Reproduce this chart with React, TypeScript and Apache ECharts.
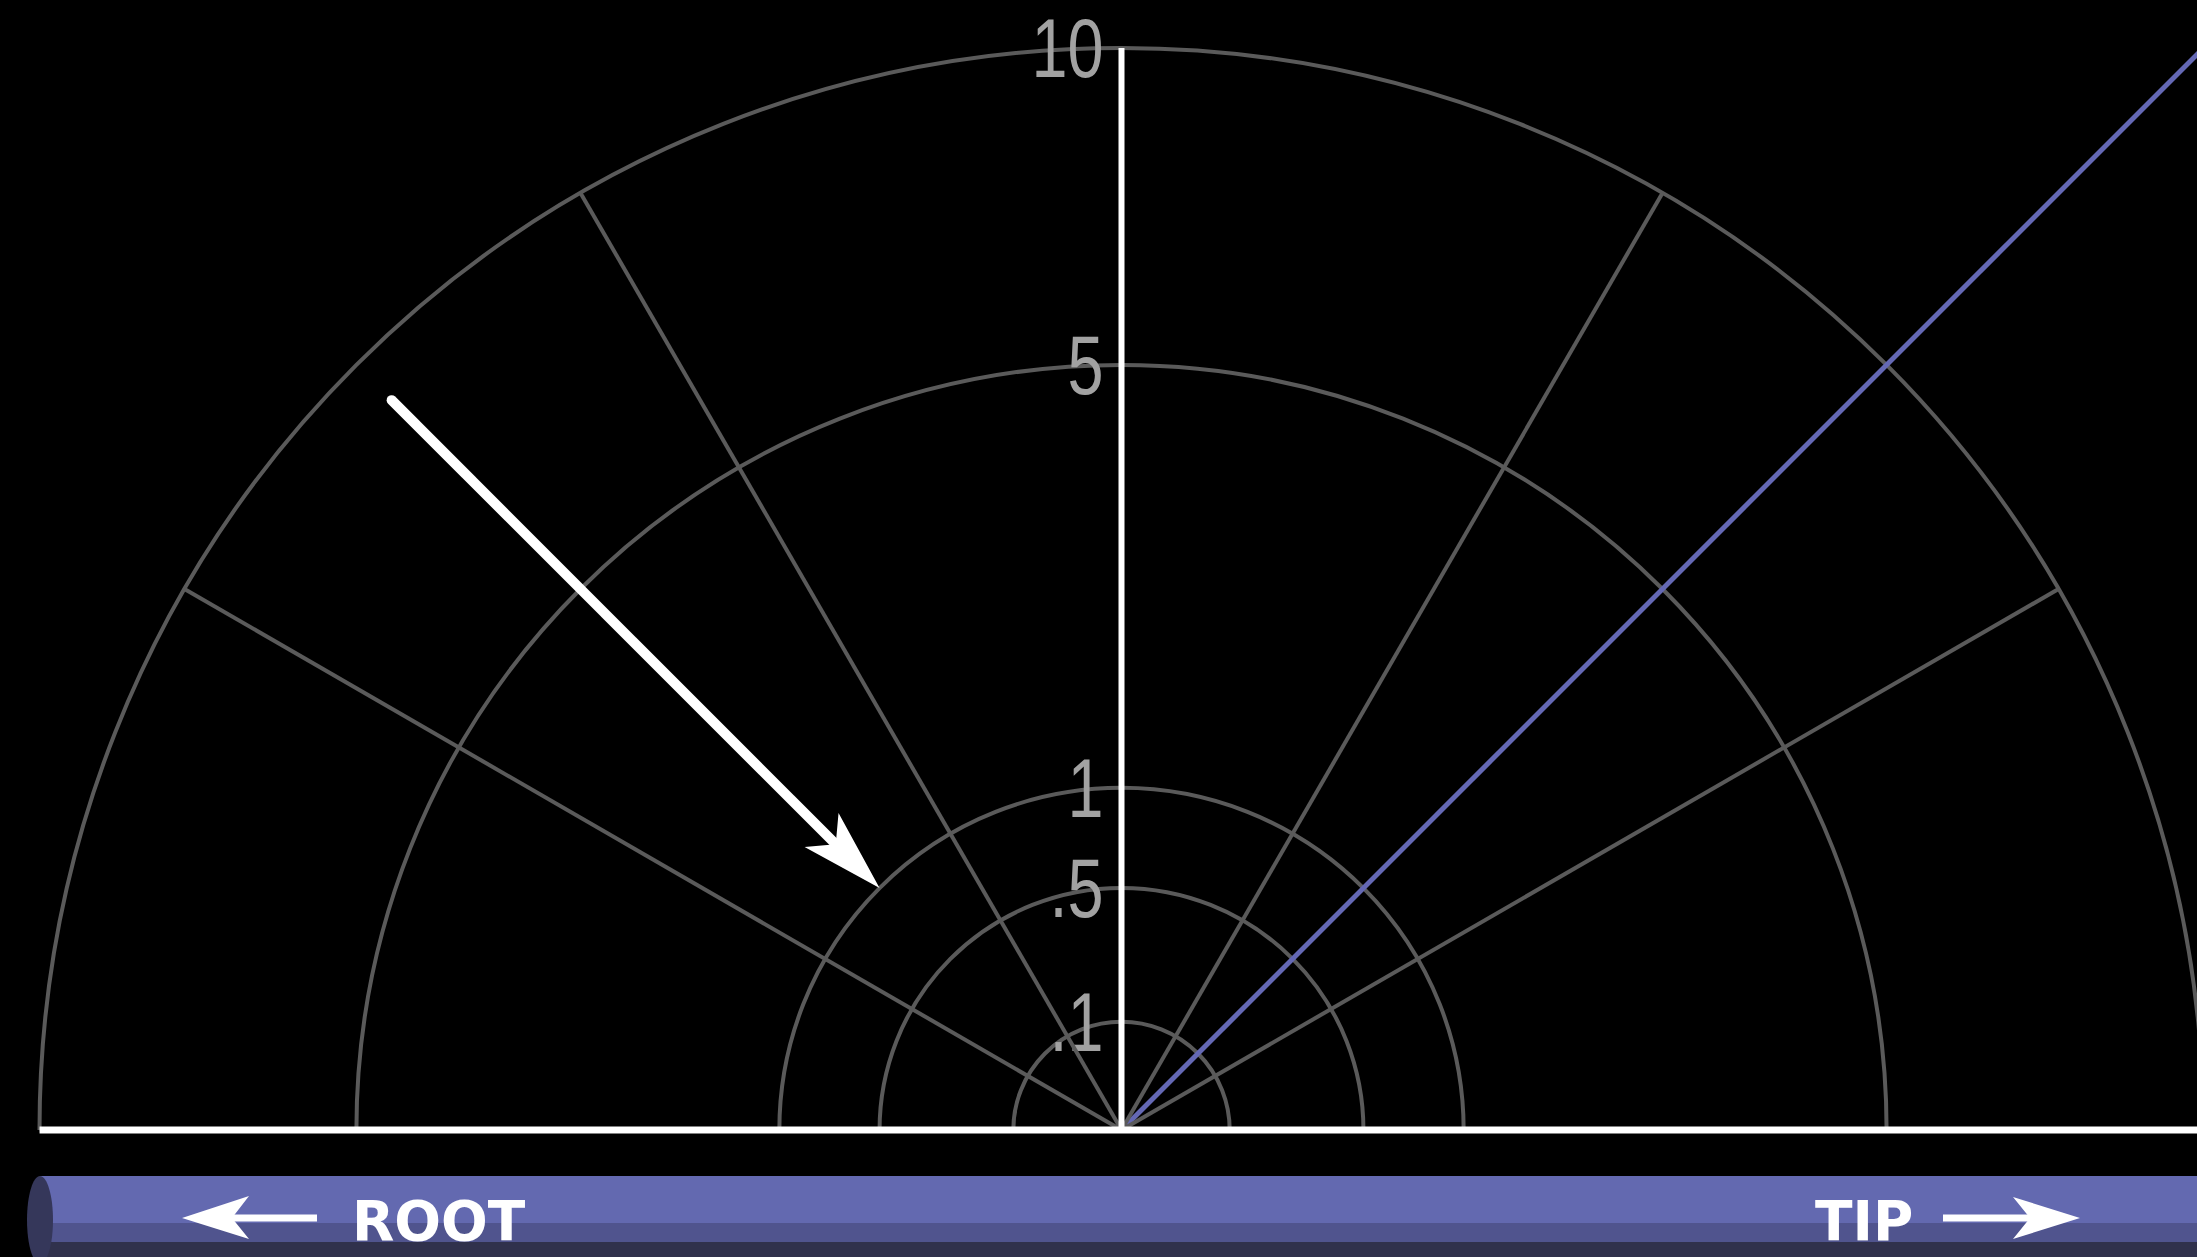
import React, { useEffect, useRef } from "react";
import * as echarts from "echarts";

// ---- data ----
const ringValues = [0.1, 0.5, 1, 5, 10];
const ringLabels = [".1", ".5", "1", "5", "10"];
const spokeAngles = [30, 60, 120, 150];
const axisAngles = [90];
const maxValue = 10;
const bladeAngles = [45];
const bladeReach = [25];
const arrowAngle = [135];
const arrowFrom = [9.1];
const arrowTo = [1.0];
const barLabels = ["ROOT", "TIP"];

// radius scale: distance grows with the square root of the value
const sq = (v: number) => Math.sqrt(v);

const GRID = "#5a5a5a";
const LABEL = "#a2a2a2";

export default function App() {
  const ref = useRef<HTMLDivElement>(null);
  useEffect(() => {
    const chart = echarts.init(ref.current!, undefined, { renderer: "svg" });
    const cx = 1121.5;
    const cy = 1130;
    const R = 1082;

    const spokeSeries = spokeAngles.map((a) => ({
      type: "line",
      coordinateSystem: "polar",
      clip: false,
      symbol: "none",
      silent: true,
      data: [
        [0, a],
        [sq(maxValue), a],
      ],
      lineStyle: { color: GRID, width: 4 },
    }));

    const axisSeries = axisAngles.map((a) => ({
      type: "line",
      coordinateSystem: "polar",
      clip: false,
      symbol: "none",
      silent: true,
      data: [
        [0, a],
        [sq(maxValue), a],
      ],
      lineStyle: { color: "#ffffff", width: 6 },
    }));

    const baseline = {
      type: "line",
      coordinateSystem: "polar",
      clip: false,
      symbol: "none",
      silent: true,
      data: [
        [sq(maxValue), 180],
        [0, 0],
        [sq(maxValue), 0],
      ],
      lineStyle: { color: "#ffffff", width: 7, cap: "round" },
    };

    // blade line, extended past the outer ring along the same radial scale
    const bladeSeries = {
      type: "custom",
      coordinateSystem: "polar",
      silent: true,
      data: bladeAngles.map((a, i) => [sq(bladeReach[i]), a]),
      renderItem: (_p: any, api: any) => {
        const a = api.value(1);
        const c = api.coord([0, a]);
        const e = api.coord([sq(maxValue), a]);
        const k = api.value(0) / sq(maxValue);
        return {
          type: "line",
          shape: { x1: c[0], y1: c[1], x2: c[0] + (e[0] - c[0]) * k, y2: c[1] + (e[1] - c[1]) * k },
          style: { stroke: "#6468b4", lineWidth: 5 },
        };
      },
    };

    const ringSeries = {
      type: "custom",
      coordinateSystem: "polar",
      silent: true,
      data: ringValues.map((v) => [sq(v), 90]),
      renderItem: (_p: any, api: any) => {
        const c = api.coord([0, 90]);
        const p = api.coord([api.value(0), 90]);
        const r = Math.hypot(p[0] - c[0], p[1] - c[1]);
        return {
          type: "arc",
          shape: { cx: c[0], cy: c[1], r, startAngle: Math.PI, endAngle: Math.PI * 2, clockwise: true },
          style: { stroke: GRID, lineWidth: 4, fill: "none" },
        };
      },
    };

    const arrowSeries = {
      type: "custom",
      coordinateSystem: "polar",
      silent: true,
      data: arrowAngle.map((a, i) => [sq(arrowFrom[i]), a, sq(arrowTo[i])]),
      renderItem: (_p: any, api: any) => {
        const tail = api.coord([api.value(0), api.value(1)]);
        const tip = api.coord([api.value(2), api.value(1)]);
        const dx = tip[0] - tail[0];
        const dy = tip[1] - tail[1];
        const len = Math.hypot(dx, dy);
        const ux = dx / len;
        const uy = dy / len;
        const px = -uy;
        const py = ux;
        const L = 82, W = 24, N = 62;
        const notch = [tip[0] - ux * N, tip[1] - uy * N];
        const wa = [tip[0] - ux * L + px * W, tip[1] - uy * L + py * W];
        const wb = [tip[0] - ux * L - px * W, tip[1] - uy * L - py * W];
        return {
          type: "group",
          children: [
            {
              type: "line",
              shape: { x1: tail[0], y1: tail[1], x2: notch[0] + ux * 4, y2: notch[1] + uy * 4 },
              style: { stroke: "#ffffff", lineWidth: 10, lineCap: "round" },
            },
            {
              type: "polygon",
              shape: { points: [tip, wa, notch, wb] },
              style: { fill: "#ffffff" },
            },
          ],
        };
      },
    };

    // ring tick labels, narrow type
    const labelSeries = {
      type: "custom",
      coordinateSystem: "polar",
      silent: true,
      data: ringValues.map((v) => [sq(v), 90]),
      renderItem: (params: any, api: any) => {
        const p = api.coord([api.value(0), api.value(1)]);
        return {
          type: "text",
          x: p[0] - 18,
          y: p[1] + 1,
          scaleX: 0.78,
          style: {
            text: ringLabels[params.dataIndex],
            fill: LABEL,
            font: "83px 'Liberation Sans', Arial, sans-serif",
            textAlign: "right",
            textVerticalAlign: "middle",
            verticalAlign: "middle",
          },
        };
      },
    };

    // blade bar (decoration)
    const barTop = 1176;
    const arrowY = 1218;
    const graphic = [
      { type: "rect", shape: { x: 40, y: barTop, width: 2200, height: 47 }, style: { fill: "#6369b0" } },
      { type: "rect", shape: { x: 40, y: 1223, width: 2200, height: 19 }, style: { fill: "#50548e" } },
      { type: "rect", shape: { x: 40, y: 1242, width: 2200, height: 20 }, style: { fill: "#30314c" } },
      { type: "ellipse", shape: { cx: 40, cy: 1220, rx: 13, ry: 44 }, style: { fill: "#35375a" } },
      // left arrow
      { type: "line", shape: { x1: 230, y1: arrowY, x2: 317, y2: arrowY }, style: { stroke: "#ffffff", lineWidth: 7 } },
      {
        type: "polygon",
        shape: { points: [[182, arrowY], [249, 1196], [232, arrowY], [249, 1239]] },
        style: { fill: "#ffffff" },
      },
      // right arrow
      { type: "line", shape: { x1: 1943, y1: arrowY, x2: 2032, y2: arrowY }, style: { stroke: "#ffffff", lineWidth: 7 } },
      {
        type: "polygon",
        shape: { points: [[2080, arrowY], [2013, 1197], [2030, arrowY], [2013, 1239]] },
        style: { fill: "#ffffff" },
      },
      {
        type: "text",
        x: 352,
        y: 1221,
        style: {
          text: barLabels[0],
          fill: "#ffffff",
          font: "bold 55px 'DejaVu Sans'",
          textAlign: "left",
          textVerticalAlign: "middle",
          verticalAlign: "middle",
        },
      },
      {
        type: "text",
        x: 1815,
        y: 1221,
        style: {
          text: barLabels[1],
          fill: "#ffffff",
          font: "bold 55px 'DejaVu Sans'",
          textAlign: "left",
          textVerticalAlign: "middle",
          verticalAlign: "middle",
        },
      },
    ];

    chart.setOption({
      animation: false,
      backgroundColor: "#000000",
      polar: { center: [cx, cy], radius: R },
      angleAxis: {
        type: "value",
        min: 0,
        max: 360,
        startAngle: 0,
        clockwise: false,
        show: false,
      },
      radiusAxis: {
        type: "value",
        min: 0,
        max: sq(maxValue),
        show: false,
      },
      graphic,
      series: [ringSeries, ...spokeSeries, baseline, ...axisSeries, bladeSeries, arrowSeries, labelSeries],
    });
    return () => chart.dispose();
  }, []);
  return (
    <div
      ref={ref}
      style={{ position: "fixed", left: 0, top: 0, width: 2197, height: 1257, background: "#000" }}
    />
  );
}
